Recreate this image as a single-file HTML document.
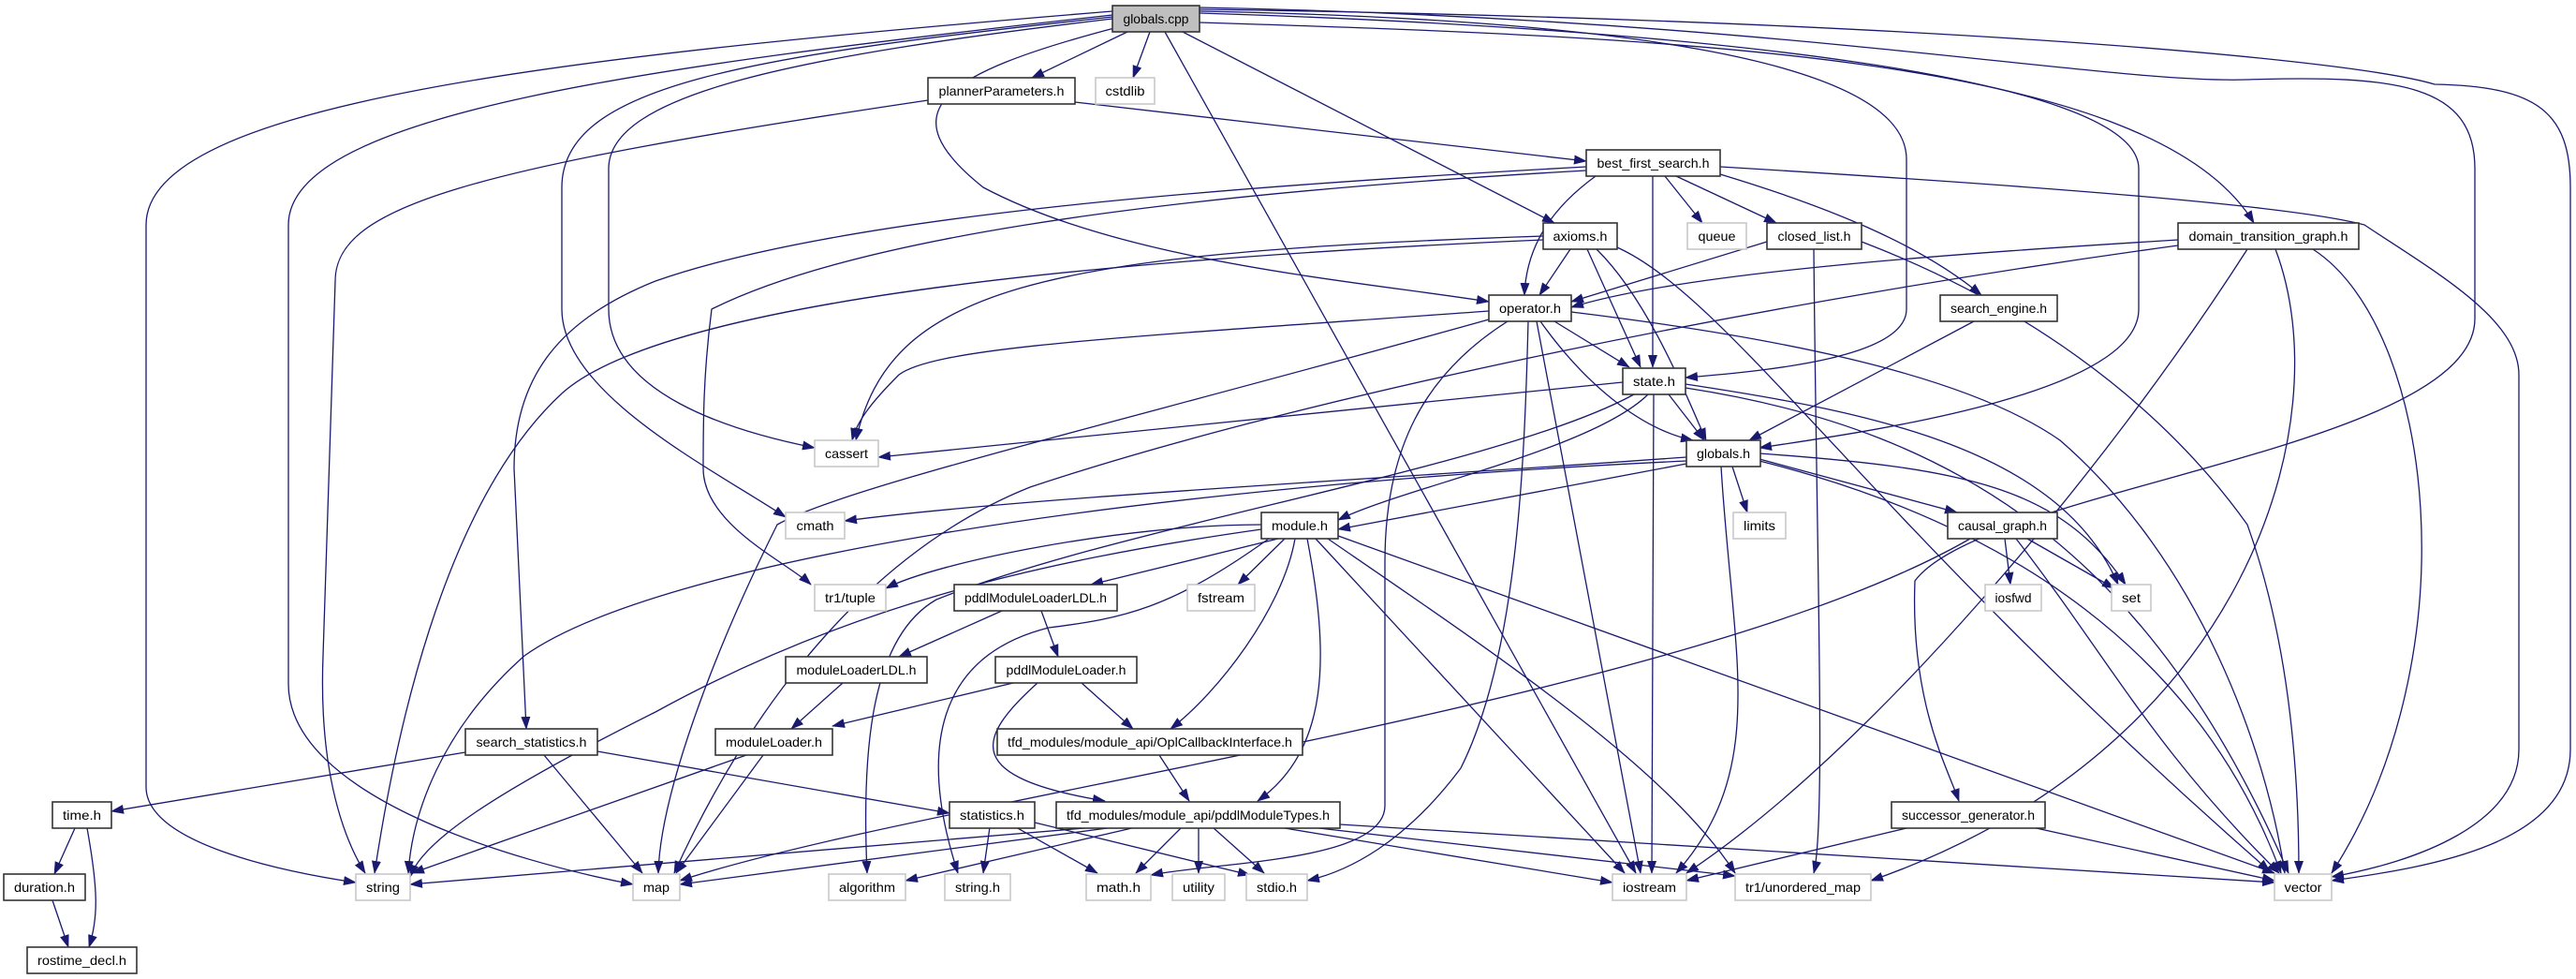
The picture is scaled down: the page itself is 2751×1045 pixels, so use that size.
<!DOCTYPE html>
<html><head><meta charset="utf-8"><style>
html,body{margin:0;padding:0;background:#fff;width:2751px;height:1045px;overflow:hidden}
svg{display:block}
text{font-family:"Liberation Sans","DejaVu Sans",sans-serif;font-size:14px;fill:#000}
.e{fill:none;stroke:#191970;stroke-width:1.3;marker-end:url(#a)}
.n{fill:#fff;stroke:#333;stroke-width:1.6}
.g{fill:#fff;stroke:#c8c8c8;stroke-width:1.6}
</style></head><body>
<svg width="2751" height="1045" viewBox="0 0 2751 1045" xmlns="http://www.w3.org/2000/svg">
<defs><marker id="a" markerWidth="14" markerHeight="10" refX="13" refY="5" orient="auto" markerUnits="userSpaceOnUse"><path d="M0,0 L14,5 L0,10 z" fill="#191970"/></marker></defs>
<g>
<!-- globals.cpp -->
<path class="e" d="M1204,34 L1102,83"/>
<path class="e" d="M1228,34 L1210,83"/>
<path class="e" d="M1263,34 L1660,238"/>
<path class="e" d="M1190,30 C1000,80 950,120 1050,200 C1200,280 1450,300 1590,322"/>
<path class="e" d="M1244,34 L1747,932"/>
<path class="e" d="M1188,12 C600,60 156,110 156,240 L156,840 C156,900 300,930 380,942"/>
<path class="e" d="M1188,16 C700,70 308,120 308,240 L308,730 C308,850 550,920 676,944"/>
<path class="e" d="M1188,18 C800,60 600,90 600,200 L600,330 C600,420 760,500 839,552"/>
<path class="e" d="M1188,20 C850,60 650,100 650,180 L650,330 C650,420 780,460 870,478"/>
<path class="e" d="M1281,12 C1700,20 2036,60 2036,170 L2036,330 C2036,380 1900,395 1800,403"/>
<path class="e" d="M1281,14 C1800,30 2284,80 2284,180 L2284,330 C2284,420 2000,460 1879,478"/>
<path class="e" d="M1281,24 C1800,40 2300,60 2407,238"/>
<path class="e" d="M1281,8 C1900,20 2250,90 2400,85 C2560,80 2643,90 2643,180 L2643,340 C2643,480 2120,520 2045,620 C2040,750 2080,820 2092,855"/>
<path class="e" d="M1281,10 C2000,20 2500,60 2600,90 C2710,92 2745,120 2745,200 L2745,800 C2745,900 2600,925 2490,940"/>
<!-- plannerParameters -->
<path class="e" d="M1148,109 L1694,172"/>
<path class="e" d="M991,107 C500,180 358,220 358,300 L345,700 C340,830 370,900 390,932"/>
<!-- best_first_search -->
<path class="e" d="M1704,188 C1660,220 1630,260 1628,315"/>
<path class="e" d="M1765,188 L1765,392"/>
<path class="e" d="M1778,188 L1818,238"/>
<path class="e" d="M1790,188 L1897,238"/>
<path class="e" d="M1837,186 C1950,220 2050,260 2116,315"/>
<path class="e" d="M1837,178 C2200,200 2450,220 2525,240 C2600,290 2690,340 2690,400 L2690,800 C2690,880 2580,920 2490,936"/>
<path class="e" d="M1694,178 C1300,200 900,230 700,300 C600,340 549,400 549,500 L562,778"/>
<path class="e" d="M1694,182 C1200,210 900,260 760,330 C751,400 751,450 751,500 C751,560 840,600 866,624"/>
<!-- axioms -->
<path class="e" d="M1677,266 L1644,315"/>
<path class="e" d="M1695,266 L1752,392"/>
<path class="e" d="M1705,266 C1760,320 1800,420 1822,470"/>
<path class="e" d="M1727,264 C1850,320 2000,560 2424,930"/>
<path class="e" d="M1648,252 C1100,270 950,310 914,470"/>
<path class="e" d="M1648,256 C1100,280 700,330 600,420 C470,540 420,800 400,932"/>
<!-- operator -->
<path class="e" d="M1660,343 L1740,392"/>
<path class="e" d="M1645,343 C1700,420 1760,460 1808,470"/>
<path class="e" d="M1590,332 C1200,360 1000,370 960,400 C930,430 915,450 910,470"/>
<path class="e" d="M1641,343 C1660,450 1740,860 1752,932"/>
<path class="e" d="M1632,343 C1628,500 1620,700 1560,820 C1500,900 1440,930 1396,940"/>
<path class="e" d="M1610,343 C1520,400 1479,480 1479,600 L1479,860 C1479,920 1300,920 1229,934"/>
<path class="e" d="M1678,333 C1900,360 2100,400 2200,470 C2350,600 2420,800 2440,932"/>
<path class="e" d="M1590,341 C1200,450 900,520 830,560 C760,700 705,850 703,932"/>
<!-- state -->
<path class="e" d="M1733,408 L938,488"/>
<path class="e" d="M1782,421 L1820,470"/>
<path class="e" d="M1760,421 C1700,480 1500,520 1429,555"/>
<path class="e" d="M1766,421 L1764,932"/>
<path class="e" d="M1745,421 C1600,500 1200,560 1000,640 C930,680 920,800 926,932"/>
<path class="e" d="M1800,410 C2000,440 2200,480 2262,624"/>
<path class="e" d="M1800,414 C2100,460 2300,600 2444,932"/>
<!-- globals.h -->
<path class="e" d="M1801,488 C1500,510 1100,530 902,556"/>
<path class="e" d="M1801,495 L1429,565"/>
<path class="e" d="M1850,498 L1866,547"/>
<path class="e" d="M1879,490 L2090,547"/>
<path class="e" d="M1879,484 C2100,500 2200,520 2270,624"/>
<path class="e" d="M1879,492 C2150,560 2350,700 2436,932"/>
<path class="e" d="M1838,498 C1850,700 1890,820 1790,932"/>
<path class="e" d="M1801,492 C1200,520 700,600 560,700 C470,780 440,870 436,932"/>
<!-- closed_list -->
<path class="e" d="M1887,258 L1678,322"/>
<path class="e" d="M1937,266 C1940,600 1950,880 1937,932"/>
<path class="e" d="M1988,258 C2150,320 2300,420 2400,560 C2450,700 2455,850 2455,932"/>
<!-- search_engine -->
<path class="e" d="M2108,343 L1868,470"/>
<!-- dtg -->
<path class="e" d="M2326,256 C2100,270 1800,290 1678,328"/>
<path class="e" d="M2326,262 C1900,320 1400,420 1100,520 C900,600 780,800 720,932"/>
<path class="e" d="M2400,266 C2250,500 2000,800 1801,932"/>
<path class="e" d="M2430,266 C2500,450 2400,800 1998,940"/>
<path class="e" d="M2470,266 C2600,350 2640,700 2490,932"/>
<!-- causal_graph -->
<path class="e" d="M2141,575 L2147,624"/>
<path class="e" d="M2165,575 L2258,628"/>
<path class="e" d="M2153,575 C2250,700 2300,800 2434,932"/>
<path class="e" d="M2104,575 C1800,750 1000,850 726,940"/>
<!-- module.h -->
<path class="e" d="M1347,560 C1200,560 1000,600 946,628"/>
<path class="e" d="M1365,575 L1165,624"/>
<path class="e" d="M1372,575 L1322,624"/>
<path class="e" d="M1383,575 C1370,650 1300,740 1250,778"/>
<path class="e" d="M1396,575 C1420,700 1420,800 1343,855"/>
<path class="e" d="M1355,575 C1250,650 1200,660 1120,670 C1000,700 980,800 1023,932"/>
<path class="e" d="M1405,575 L1735,932"/>
<path class="e" d="M1418,575 C1600,700 1780,820 1853,932"/>
<path class="e" d="M1429,572 L2429,932"/>
<path class="e" d="M1347,565 C1100,600 900,650 700,760 C520,850 450,900 438,936"/>
<!-- loaders -->
<path class="e" d="M1070,652 L960,701"/>
<path class="e" d="M1112,652 L1130,701"/>
<path class="e" d="M900,729 L845,778"/>
<path class="e" d="M1082,729 L889,775"/>
<path class="e" d="M1155,729 L1210,778"/>
<path class="e" d="M1108,729 C1040,790 1030,830 1180,855"/>
<path class="e" d="M1238,806 L1270,855"/>
<path class="e" d="M797,806 L440,932"/>
<path class="e" d="M815,806 L722,932"/>
<!-- search_statistics -->
<path class="e" d="M497,803 L119,866"/>
<path class="e" d="M581,806 L686,932"/>
<path class="e" d="M638,802 L1014,868"/>
<!-- statistics -->
<path class="e" d="M1057,883 L1050,932"/>
<path class="e" d="M1085,883 L1172,932"/>
<path class="e" d="M1105,878 L1335,934"/>
<!-- pddlModuleTypes -->
<path class="e" d="M1170,883 L438,944"/>
<path class="e" d="M1190,883 L726,944"/>
<path class="e" d="M1213,883 L967,940"/>
<path class="e" d="M1262,883 L1213,932"/>
<path class="e" d="M1280,883 L1280,932"/>
<path class="e" d="M1295,883 L1350,932"/>
<path class="e" d="M1366,883 L1722,942"/>
<path class="e" d="M1400,883 L1853,935"/>
<path class="e" d="M1431,880 L2429,942"/>
<!-- time -->
<path class="e" d="M80,884 L58,933"/>
<path class="e" d="M93,884 C105,950 105,980 95,1011"/>
<path class="e" d="M56,961 L73,1011"/>
<!-- successor -->
<path class="e" d="M2040,883 L1801,940"/>
<path class="e" d="M2170,883 L2429,940"/>
</g>
<g>
<rect x="1188" y="6" width="93" height="28" fill="#bfbfbf" stroke="#333" stroke-width="1.6"/><text x="1234.5" y="25" text-anchor="middle" textLength="70" lengthAdjust="spacingAndGlyphs">globals.cpp</text>
<rect class="n" x="991" y="83" width="157" height="28"/><text x="1069.5" y="102" text-anchor="middle" textLength="134" lengthAdjust="spacingAndGlyphs">plannerParameters.h</text>
<rect class="g" x="1170" y="83" width="63" height="28"/><text x="1201.5" y="102" text-anchor="middle" textLength="42" lengthAdjust="spacingAndGlyphs">cstdlib</text>
<rect class="n" x="1694" y="160" width="143" height="28"/><text x="1765.5" y="179" text-anchor="middle" textLength="120" lengthAdjust="spacingAndGlyphs">best_first_search.h</text>
<rect class="n" x="1648" y="238" width="79" height="28"/><text x="1687.5" y="257" text-anchor="middle" textLength="58" lengthAdjust="spacingAndGlyphs">axioms.h</text>
<rect class="g" x="1802" y="238" width="63" height="28"/><text x="1833.5" y="257" text-anchor="middle" textLength="40" lengthAdjust="spacingAndGlyphs">queue</text>
<rect class="n" x="1887" y="238" width="101" height="28"/><text x="1937.5" y="257" text-anchor="middle" textLength="78" lengthAdjust="spacingAndGlyphs">closed_list.h</text>
<rect class="n" x="2326" y="238" width="193" height="28"/><text x="2422.5" y="257" text-anchor="middle" textLength="170" lengthAdjust="spacingAndGlyphs">domain_transition_graph.h</text>
<rect class="n" x="1590" y="315" width="88" height="28"/><text x="1634" y="334" text-anchor="middle" textLength="66" lengthAdjust="spacingAndGlyphs">operator.h</text>
<rect class="n" x="2072" y="315" width="125" height="28"/><text x="2134.5" y="334" text-anchor="middle" textLength="103" lengthAdjust="spacingAndGlyphs">search_engine.h</text>
<rect class="n" x="1733" y="393" width="67" height="28"/><text x="1766.5" y="412" text-anchor="middle" textLength="45" lengthAdjust="spacingAndGlyphs">state.h</text>
<rect class="g" x="870" y="470" width="68" height="28"/><text x="904" y="489" text-anchor="middle" textLength="46" lengthAdjust="spacingAndGlyphs">cassert</text>
<rect class="n" x="1801" y="470" width="79" height="28"/><text x="1840.5" y="489" text-anchor="middle" textLength="57" lengthAdjust="spacingAndGlyphs">globals.h</text>
<rect class="g" x="839" y="547" width="63" height="28"/><text x="870.5" y="566" text-anchor="middle" textLength="40" lengthAdjust="spacingAndGlyphs">cmath</text>
<rect class="n" x="1347" y="547" width="82" height="28"/><text x="1388" y="566" text-anchor="middle" textLength="60" lengthAdjust="spacingAndGlyphs">module.h</text>
<rect class="g" x="1851" y="547" width="56" height="28"/><text x="1879" y="566" text-anchor="middle" textLength="34" lengthAdjust="spacingAndGlyphs">limits</text>
<rect class="n" x="2080" y="547" width="117" height="28"/><text x="2138.5" y="566" text-anchor="middle" textLength="95" lengthAdjust="spacingAndGlyphs">causal_graph.h</text>
<rect class="g" x="870" y="624" width="76" height="28"/><text x="908" y="643" text-anchor="middle" textLength="54" lengthAdjust="spacingAndGlyphs">tr1/tuple</text>
<rect class="n" x="1019" y="624" width="174" height="28"/><text x="1106" y="643" text-anchor="middle" textLength="152" lengthAdjust="spacingAndGlyphs">pddlModuleLoaderLDL.h</text>
<rect class="g" x="1268" y="624" width="72" height="28"/><text x="1304" y="643" text-anchor="middle" textLength="50" lengthAdjust="spacingAndGlyphs">fstream</text>
<rect class="g" x="2120" y="624" width="60" height="28"/><text x="2150" y="643" text-anchor="middle" textLength="39" lengthAdjust="spacingAndGlyphs">iosfwd</text>
<rect class="g" x="2255" y="624" width="42" height="28"/><text x="2276" y="643" text-anchor="middle" textLength="20" lengthAdjust="spacingAndGlyphs">set</text>
<rect class="n" x="839" y="701" width="151" height="28"/><text x="914.5" y="720" text-anchor="middle" textLength="128" lengthAdjust="spacingAndGlyphs">moduleLoaderLDL.h</text>
<rect class="n" x="1063" y="701" width="151" height="28"/><text x="1138.5" y="720" text-anchor="middle" textLength="128" lengthAdjust="spacingAndGlyphs">pddlModuleLoader.h</text>
<rect class="n" x="497" y="778" width="141" height="28"/><text x="567.5" y="797" text-anchor="middle" textLength="118" lengthAdjust="spacingAndGlyphs">search_statistics.h</text>
<rect class="n" x="764" y="778" width="125" height="28"/><text x="826.5" y="797" text-anchor="middle" textLength="103" lengthAdjust="spacingAndGlyphs">moduleLoader.h</text>
<rect class="n" x="1065" y="778" width="326" height="28"/><text x="1228" y="797" text-anchor="middle" textLength="304" lengthAdjust="spacingAndGlyphs">tfd_modules/module_api/OplCallbackInterface.h</text>
<rect class="n" x="56" y="856" width="63" height="28"/><text x="87.5" y="875" text-anchor="middle" textLength="41" lengthAdjust="spacingAndGlyphs">time.h</text>
<rect class="n" x="1014" y="856" width="91" height="28"/><text x="1059.5" y="875" text-anchor="middle" textLength="69" lengthAdjust="spacingAndGlyphs">statistics.h</text>
<rect class="n" x="1128" y="856" width="303" height="28"/><text x="1279.5" y="875" text-anchor="middle" textLength="281" lengthAdjust="spacingAndGlyphs">tfd_modules/module_api/pddlModuleTypes.h</text>
<rect class="n" x="2020" y="856" width="164" height="28"/><text x="2102" y="875" text-anchor="middle" textLength="142" lengthAdjust="spacingAndGlyphs">successor_generator.h</text>
<rect class="n" x="4" y="933" width="87" height="28"/><text x="47.5" y="952" text-anchor="middle" textLength="65" lengthAdjust="spacingAndGlyphs">duration.h</text>
<rect class="g" x="380" y="933" width="58" height="28"/><text x="409" y="952" text-anchor="middle" textLength="36" lengthAdjust="spacingAndGlyphs">string</text>
<rect class="g" x="676" y="933" width="50" height="28"/><text x="701" y="952" text-anchor="middle" textLength="28" lengthAdjust="spacingAndGlyphs">map</text>
<rect class="g" x="885" y="933" width="82" height="28"/><text x="926" y="952" text-anchor="middle" textLength="60" lengthAdjust="spacingAndGlyphs">algorithm</text>
<rect class="g" x="1009" y="933" width="70" height="28"/><text x="1044" y="952" text-anchor="middle" textLength="48" lengthAdjust="spacingAndGlyphs">string.h</text>
<rect class="g" x="1160" y="933" width="69" height="28"/><text x="1194.5" y="952" text-anchor="middle" textLength="47" lengthAdjust="spacingAndGlyphs">math.h</text>
<rect class="g" x="1252" y="933" width="56" height="28"/><text x="1280" y="952" text-anchor="middle" textLength="34" lengthAdjust="spacingAndGlyphs">utility</text>
<rect class="g" x="1331" y="933" width="65" height="28"/><text x="1363.5" y="952" text-anchor="middle" textLength="43" lengthAdjust="spacingAndGlyphs">stdio.h</text>
<rect class="g" x="1722" y="933" width="79" height="28"/><text x="1761.5" y="952" text-anchor="middle" textLength="57" lengthAdjust="spacingAndGlyphs">iostream</text>
<rect class="g" x="1853" y="933" width="145" height="28"/><text x="1925.5" y="952" text-anchor="middle" textLength="123" lengthAdjust="spacingAndGlyphs">tr1/unordered_map</text>
<rect class="g" x="2429" y="933" width="61" height="28"/><text x="2459.5" y="952" text-anchor="middle" textLength="40" lengthAdjust="spacingAndGlyphs">vector</text>
<rect class="n" x="29" y="1011" width="117" height="28"/><text x="87.5" y="1030" text-anchor="middle" textLength="95" lengthAdjust="spacingAndGlyphs">rostime_decl.h</text>
</g>
</svg>
</body></html>
